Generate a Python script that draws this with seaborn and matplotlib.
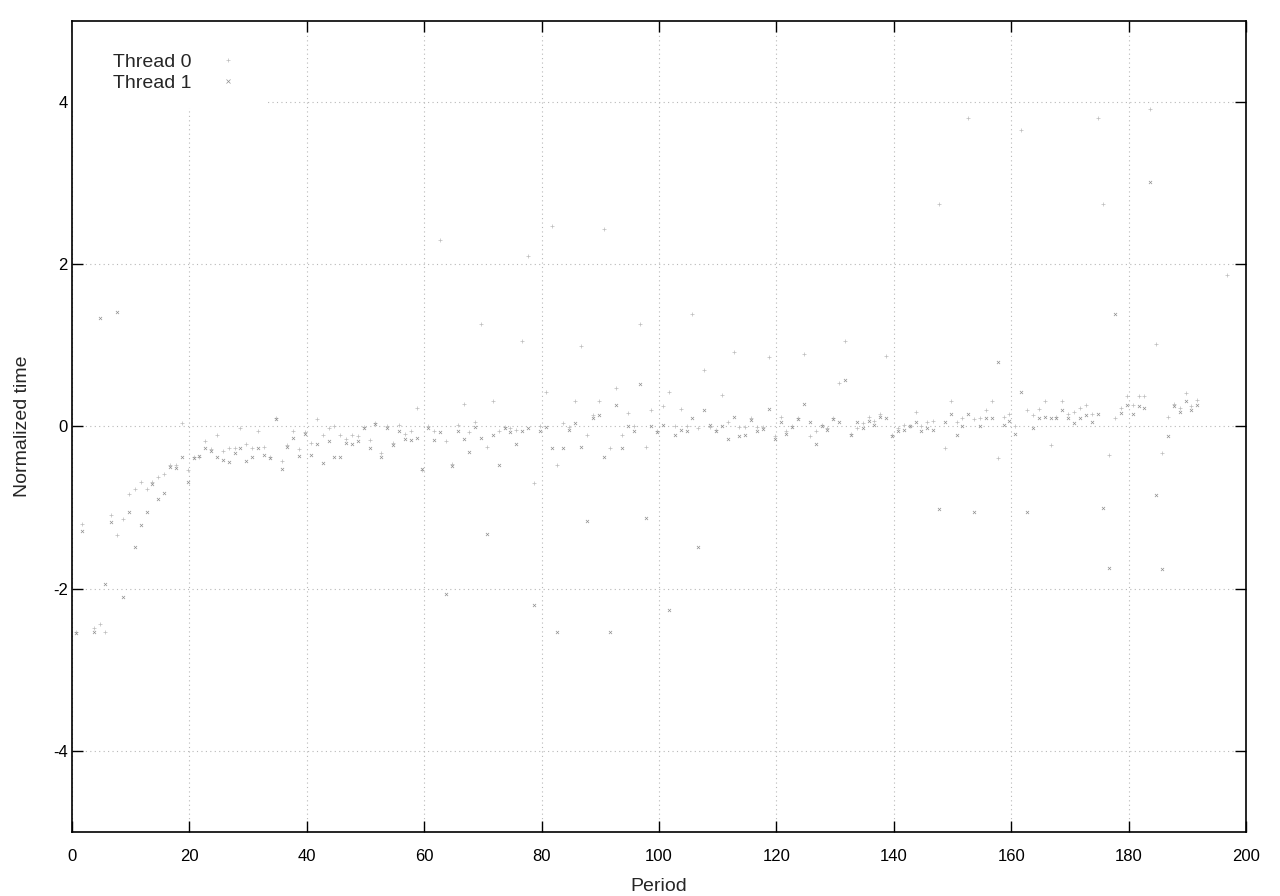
import numpy as np
import pandas as pd
import seaborn as sns
import matplotlib.pyplot as plt
from matplotlib.lines import Line2D
from matplotlib.patches import Rectangle

nan = np.nan

# normalized time per period
thread0 = [
    -2.53, -1.20, nan, -2.49, -2.44, -2.53, -1.09, -1.34, -1.14, -0.83,
    -0.77, -0.68, -0.77, -0.69, -0.62, -0.58, -0.47, -0.48, 0.04, -0.54,
    -0.37, -0.38, -0.18, -0.28, -0.10, -0.30, -0.27, -0.27, -0.02, -0.22,
    -0.26, -0.06, -0.25, -0.37, 0.11, -0.42, -0.23, -0.05, -0.28, -0.07,
    -0.20, 0.09, -0.10, -0.02, 0.00, -0.11, -0.16, -0.10, -0.12, -0.01,
    -0.17, 0.04, -0.33, 0.01, -0.20, 0.02, -0.09, -0.05, 0.23, -0.54,
    0.00, -0.05, 2.30, -0.18, -0.46, 0.02, 0.28, -0.07, 0.06, 1.26,
    -0.25, 0.32, -0.05, -0.01, -0.02, -0.04, 1.06, 2.10, -0.70, 0.00,
    0.43, 2.47, -0.47, 0.04, -0.01, 0.32, 0.99, -0.11, 0.14, 0.32,
    2.43, -0.27, 0.48, -0.11, 0.17, 0.01, 1.26, -0.25, 0.20, -0.06,
    0.25, 0.43, 0.01, 0.21, 0.00, 1.39, -0.02, 0.70, -0.01, -0.04,
    0.39, 0.06, 0.92, -0.01, -0.01, 0.10, -0.01, -0.01, 0.86, -0.12,
    0.12, -0.06, 0.00, 0.10, 0.89, -0.12, -0.06, 0.02, -0.02, 0.11,
    0.54, 1.05, -0.09, -0.02, 0.04, 0.12, 0.07, 0.15, 0.87, -0.10,
    -0.02, 0.02, 0.00, 0.18, 0.00, 0.06, 0.07, 2.74, -0.26, 0.32,
    0.05, 0.10, 3.80, 0.09, 0.10, 0.20, 0.31, -0.39, 0.12, 0.16,
    0.01, 3.65, 0.20, 0.14, 0.22, 0.31, -0.23, 0.12, 0.31, 0.15,
    0.18, 0.23, 0.26, 0.16, 3.80, 2.74, -0.35, 0.10, 0.23, 0.37,
    0.26, 0.38, 0.37, 3.92, 1.02, -0.33, 0.12, 0.28, 0.23, 0.41,
    0.25, 0.33, nan, nan, nan, nan, 1.87,
]
thread1 = [
    -2.55, -1.29, nan, -2.53, 1.34, -1.94, -1.18, 1.41, -2.10, -1.05,
    -1.49, -1.21, -1.06, -0.71, -0.90, -0.82, -0.50, -0.51, -0.38, -0.68,
    -0.39, -0.36, -0.27, -0.30, -0.38, -0.41, -0.44, -0.33, -0.26, -0.42,
    -0.37, -0.26, -0.35, -0.39, 0.09, -0.53, -0.25, -0.14, -0.36, -0.09,
    -0.35, -0.22, -0.45, -0.18, -0.38, -0.37, -0.20, -0.22, -0.18, -0.02,
    -0.26, 0.03, -0.38, -0.02, -0.23, -0.06, -0.16, -0.17, -0.14, -0.53,
    -0.02, -0.17, -0.07, -2.07, -0.49, -0.05, -0.16, -0.32, -0.01, -0.14,
    -1.32, -0.11, -0.47, -0.02, -0.07, -0.21, -0.05, -0.02, -2.20, -0.06,
    -0.01, -0.26, -2.53, -0.26, -0.04, 0.04, -0.25, -1.17, 0.10, 0.14,
    -0.38, -2.53, 0.27, -0.27, 0.00, -0.06, 0.52, -1.13, 0.00, -0.07,
    0.02, -2.26, -0.10, -0.04, -0.06, 0.10, -1.48, 0.20, 0.02, -0.05,
    0.00, -0.16, 0.12, -0.12, -0.10, 0.08, -0.06, -0.03, 0.22, -0.16,
    0.05, -0.09, -0.01, 0.09, 0.28, 0.05, -0.21, 0.00, -0.04, 0.09,
    0.06, 0.57, -0.11, 0.05, -0.02, 0.07, 0.02, 0.12, 0.11, -0.12,
    -0.05, -0.04, 0.01, 0.05, -0.06, -0.02, -0.04, -1.02, 0.05, 0.15,
    -0.10, 0.00, 0.16, -1.05, 0.01, 0.11, 0.11, 0.80, 0.02, 0.07,
    -0.09, 0.43, -1.05, -0.02, 0.10, 0.12, 0.10, 0.11, 0.20, 0.10,
    0.04, 0.11, 0.14, 0.06, 0.15, -1.00, -1.74, 1.39, 0.17, 0.27,
    0.15, 0.25, 0.23, 3.02, -0.85, -1.76, -0.12, 0.25, 0.18, 0.31,
    0.20, 0.26, nan, nan, nan, nan, nan,
]
period = [i + 0.7 for i in range(len(thread0))]

df = pd.concat([
    pd.DataFrame({"Period": period, "Normalized time": thread0, "Thread": "Thread 0"}),
    pd.DataFrame({"Period": period, "Normalized time": thread1, "Thread": "Thread 1"}),
]).dropna()

sns.set_style("ticks")
plt.rcParams["font.family"] = ["Liberation Sans", "DejaVu Sans"]
plt.rcParams["axes.unicode_minus"] = False

fig = plt.figure(figsize=(12.8, 8.96), dpi=100)
ax = fig.add_axes([0.05625, 0.0714, 0.9172, 0.9052])

colors = {"Thread 0": "#bcbcbc", "Thread 1": "#909090"}
markers = {"Thread 0": "+", "Thread 1": "x"}
for name, sub in df.groupby("Thread"):
    sns.scatterplot(data=sub, x="Period", y="Normalized time", ax=ax,
                    marker=markers[name], color=colors[name], s=5,
                    linewidth=0.5, legend=False, zorder=3)

ax.set_xlim(0, 200)
ax.set_ylim(-5, 5)
ax.set_xticks(range(0, 201, 20))
ax.set_yticks(range(-4, 5, 2))
ax.grid(True, color="#b8b8b8", linestyle=(0, (1, 3)), linewidth=0.8)
ax.tick_params(axis="both", direction="in", length=8, width=1, top=True, right=True,
               labelsize=12, colors="black")
ax.tick_params(axis="x", pad=12)
ax.tick_params(axis="y", pad=3)
for s in ax.spines.values():
    s.set_linewidth(1.2)
    s.set_color("black")
ax.set_xlabel("Period", fontsize=14, labelpad=10)
ax.set_ylabel("Normalized time", fontsize=14, labelpad=15.5)

# white key area like the original
ax.add_patch(Rectangle((0, 0.8927), 0.1644, 0.1073, transform=ax.transAxes,
                       facecolor="white", edgecolor="none", zorder=2))

handles = [Line2D([], [], linestyle="none", marker=markers[k], color=colors[k],
                  markersize=2.5, markeredgewidth=0.5) for k in ["Thread 0", "Thread 1"]]
leg = ax.legend(handles, ["Thread 0", "Thread 1"], loc="upper left",
                bbox_to_anchor=(0.0349, 0.960), markerfirst=False, frameon=False,
                borderpad=0, borderaxespad=0, handlelength=2.2, handletextpad=0.8,
                labelspacing=0.18, fontsize=14)
leg.set_zorder(5)

plt.savefig("out.png", dpi=100)
plt.close()
